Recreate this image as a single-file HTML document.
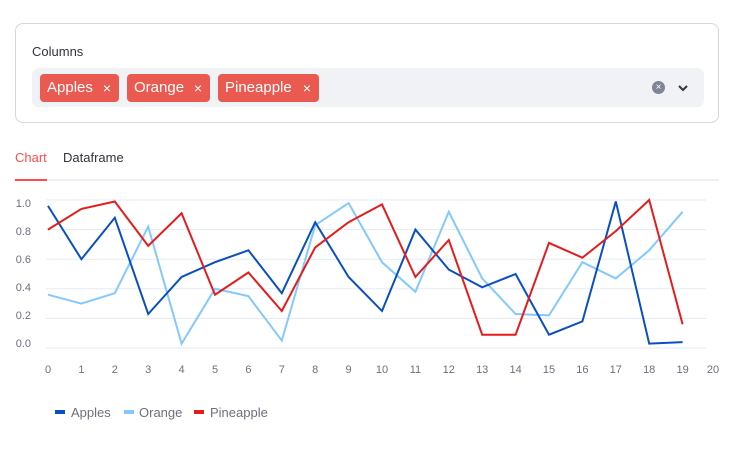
<!DOCTYPE html>
<html><head><meta charset="utf-8"><style>
body{margin:0;width:742px;height:451px;background:#fff;font-family:"Liberation Sans",sans-serif;overflow:hidden;position:relative}
.box{position:absolute;left:15px;top:23px;width:702px;height:98px;border:1px solid #d6d6d9;border-radius:8px}
.lbl{position:absolute;left:16px;top:20px;font-size:13px;color:#31333f}
.sel{position:absolute;left:16px;top:44px;width:672px;height:39px;background:#f0f2f6;border-radius:7px}
.tag{position:absolute;top:6px;height:28px;background:#eb5a50;border-radius:4px;color:#fff;font-size:15px;line-height:28px;padding-left:7px;box-sizing:border-box}
.tag span{position:absolute;right:8px;font-size:14px}
.tabs{position:absolute;left:15px;top:150px;font-size:13px}
</style></head><body>
<div class="box"><div class="lbl">Columns</div>
<div class="sel">
<div class="tag" style="left:8px;width:79px">Apples<span>×</span></div>
<div class="tag" style="left:95px;width:83px">Orange<span>×</span></div>
<div class="tag" style="left:186px;width:101px">Pineapple<span>×</span></div>
<div style="position:absolute;left:620px;top:13px;width:13px;height:13px;border-radius:50%;background:#808495;color:#fff;font-size:10px;line-height:13px;text-align:center">×</div>
<svg style="position:absolute;left:645px;top:16px" width="12" height="8"><path d="M2 2 L6 6 L10 2" stroke="#31333f" stroke-width="2" fill="none"/></svg>
</div></div>
<div class="tabs"><span style="color:#ff4b4b">Chart</span><span style="position:absolute;left:48px;color:#31333f;white-space:nowrap">Dataframe</span></div>
<div style="position:absolute;left:15px;top:179px;width:704px;height:2px;background:#efefef"></div>
<div style="position:absolute;left:15px;top:179px;width:32px;height:2px;background:#ff4b4b"></div>
<svg style="position:absolute;left:0;top:0" width="742" height="451" font-family="Liberation Sans, sans-serif">
<g stroke="#e6eaf1" stroke-width="1">
<line x1="46" x2="706" y1="200" y2="200"/><line x1="46" x2="706" y1="229.6" y2="229.6"/><line x1="46" x2="706" y1="259.2" y2="259.2"/><line x1="46" x2="706" y1="288.8" y2="288.8"/><line x1="46" x2="706" y1="318.4" y2="318.4"/><line x1="46" x2="706" y1="348" y2="348"/>
</g>
<g fill="#6c6f80" font-size="11" text-anchor="end">
<text x="31" y="207">1.0</text><text x="31" y="235">0.8</text><text x="31" y="263">0.6</text><text x="31" y="291">0.4</text><text x="31" y="319">0.2</text><text x="31" y="347">0.0</text>
</g>
<g fill="#6c6f80" font-size="11" text-anchor="middle">
<text x="48" y="373">0</text><text x="81.4" y="373">1</text><text x="114.8" y="373">2</text><text x="148.2" y="373">3</text><text x="181.6" y="373">4</text><text x="215" y="373">5</text><text x="248.4" y="373">6</text><text x="281.8" y="373">7</text><text x="315.2" y="373">8</text><text x="348.6" y="373">9</text><text x="382" y="373">10</text><text x="415.4" y="373">11</text><text x="448.8" y="373">12</text><text x="482.2" y="373">13</text><text x="515.6" y="373">14</text><text x="549" y="373">15</text><text x="582.4" y="373">16</text><text x="615.8" y="373">17</text><text x="649.2" y="373">18</text><text x="682.6" y="373">19</text><text x="713" y="373">20</text>
</g>
<g fill="none" stroke-width="2" stroke-linejoin="miter">
<polyline stroke="#83c9ff" points="48,294.7 81.4,303.6 114.8,293.2 148.2,226.6 181.6,343.6 215,288.8 248.4,296.2 281.8,340.6 315.2,225.2 348.6,203 382,262.2 415.4,291.8 448.8,211.8 482.2,278.4 515.6,314 549,315.4 582.4,262.2 615.8,278.4 649.2,250.3 682.6,211.8"/>
<polyline stroke="#0a4fc0" points="48,205.9 81.4,259.2 114.8,217.8 148.2,314 181.6,277 215,262.2 248.4,250.3 281.8,293.2 315.2,222.2 348.6,277 382,311 415.4,229.6 448.8,269.6 482.2,287.3 515.6,274 549,334.7 582.4,321.4 615.8,201.5 649.2,343.6 682.6,342.1"/>
<polyline stroke="#e51c1c" points="48,229.6 81.4,208.9 114.8,201.5 148.2,245.9 181.6,213.3 215,294.7 248.4,272.5 281.8,311 315.2,247.4 348.6,222.2 382,204.4 415.4,277 448.8,240 482.2,334.7 515.6,334.7 549,242.9 582.4,257.7 615.8,231.1 649.2,200 682.6,324.3"/>
</g>
<g font-size="13" fill="#6c6f80">
<rect x="55" y="410" width="10" height="4" fill="#0a4fc0"/><text x="71" y="417">Apples</text>
<rect x="124" y="410" width="10" height="4" fill="#83c9ff"/><text x="139" y="417">Orange</text>
<rect x="194" y="410" width="10" height="4" fill="#e51c1c"/><text x="210" y="417">Pineapple</text>
</g>
</svg>
</body></html>
